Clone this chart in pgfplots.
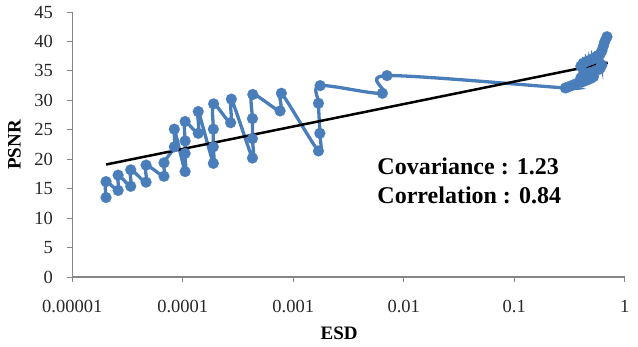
\documentclass[border=0pt]{standalone}
\usepackage{fontspec}
\setmainfont{Liberation Serif}
\usepackage{pgfplots}
\usepackage{pgfplotstable}
\pgfplotsset{compat=1.18}
\definecolor{xlblue}{RGB}{74,126,187}
\definecolor{axgray}{RGB}{134,134,134}
\pgfplotstableread{
x y
2.02e-5 13.5
2.02e-5 16.2
2.6e-5 14.7
2.6e-5 17.3
3.38e-5 15.4
3.38e-5 18.2
4.65e-5 16.1
4.65e-5 19.0
6.76e-5 17.1
6.76e-5 19.4
8.38e-5 22.1
8.38e-5 25.1
1.05e-4 17.9
1.05e-4 21.0
1.05e-4 23.1
1.05e-4 26.4
1.38e-4 24.4
1.38e-4 28.1
1.89e-4 19.3
1.89e-4 22.1
1.89e-4 25.1
1.9e-4 29.4
2.71e-4 26.2
2.75e-4 30.2
4.27e-4 20.2
4.27e-4 23.5
4.27e-4 26.9
4.3e-4 31.0
7.6e-4 28.2
7.8e-4 31.2
1.69e-3 21.4
1.74e-3 24.4
1.69e-3 29.5
1.75e-3 32.5
6.4e-3 31.2
7.05e-3 34.2
0.29 32.1
0.31 32.3
0.34 32.6
0.37 32.9
0.41 33.1
0.45 33.4
0.49 33.7
0.52 34.0
0.40 33.8
0.40 35.8
0.42 34.2
0.42 36.3
0.45 34.5
0.45 36.6
0.48 34.7
0.48 36.8
0.51 34.8
0.51 37.0
0.54 35.0
0.54 37.3
0.57 35.2
0.57 37.6
0.60 35.5
0.60 37.9
0.62 36.0
0.62 38.4
0.64 39.2
0.66 40.0
0.69 40.8
}\esddata
\begin{document}
\begin{tikzpicture}[x=1pt,y=1pt]
\begin{axis}[
  at={(0,0)}, anchor=south west,
  scale only axis, width=552.5pt, height=265pt,
  xmode=log, xmin=1e-5, xmax=1, ymin=0, ymax=45,
  axis x line*=bottom, axis y line*=left,
  axis line style={axgray, line width=1.3pt},
  xtick={1e-5,1e-4,1e-3,1e-2,1e-1,1},
  xticklabels={0.00001,0.0001,0.001,0.01,0.1,1},
  xminorticks=false,
  ytick={0,5,...,45},
  tick align=outside, major tick length=5pt,
  tick style={axgray, line width=1pt},
  /pgf/number format/assume math mode=true,
  tick label style={font=\fontsize{18.5}{18.5}\selectfont, text=black!85},
  xticklabel style={yshift=-15pt},
  yticklabel style={xshift=-11pt},
  every axis y label/.style={at={(axis description cs:-0.1046,0.498)}, rotate=90, anchor=center},
  every axis x label/.style={at={(axis description cs:0.483,-0.2113)}, anchor=center},
  xlabel={ESD}, ylabel={PSNR},
  label style={font=\fontsize{19}{19}\bfseries\selectfont},
  clip=false,
]
\addplot[xlblue, line width=3.3pt, smooth, tension=0.5, no marks] table {\esddata};
\addplot[only marks, mark=*, mark size=5.5pt, mark options={fill=xlblue, draw=xlblue, line width=0.1pt}] table {\esddata};
\addplot[black, line width=2.5pt, no marks] coordinates {(2.02e-5,19.1) (0.7,36.4)};
\node[anchor=base west, inner sep=0, font=\fontsize{24}{24}\bfseries\selectfont] at (rel axis cs:0.552,0.385) {Covariance : 1.23};
\node[anchor=base west, inner sep=0, font=\fontsize{24}{24}\bfseries\selectfont] at (rel axis cs:0.552,0.279) {Correlation : 0.84};
\end{axis}
\pgfresetboundingbox
\path (-72.3,-69) rectangle (565.7,277);
\end{tikzpicture}
\end{document}
